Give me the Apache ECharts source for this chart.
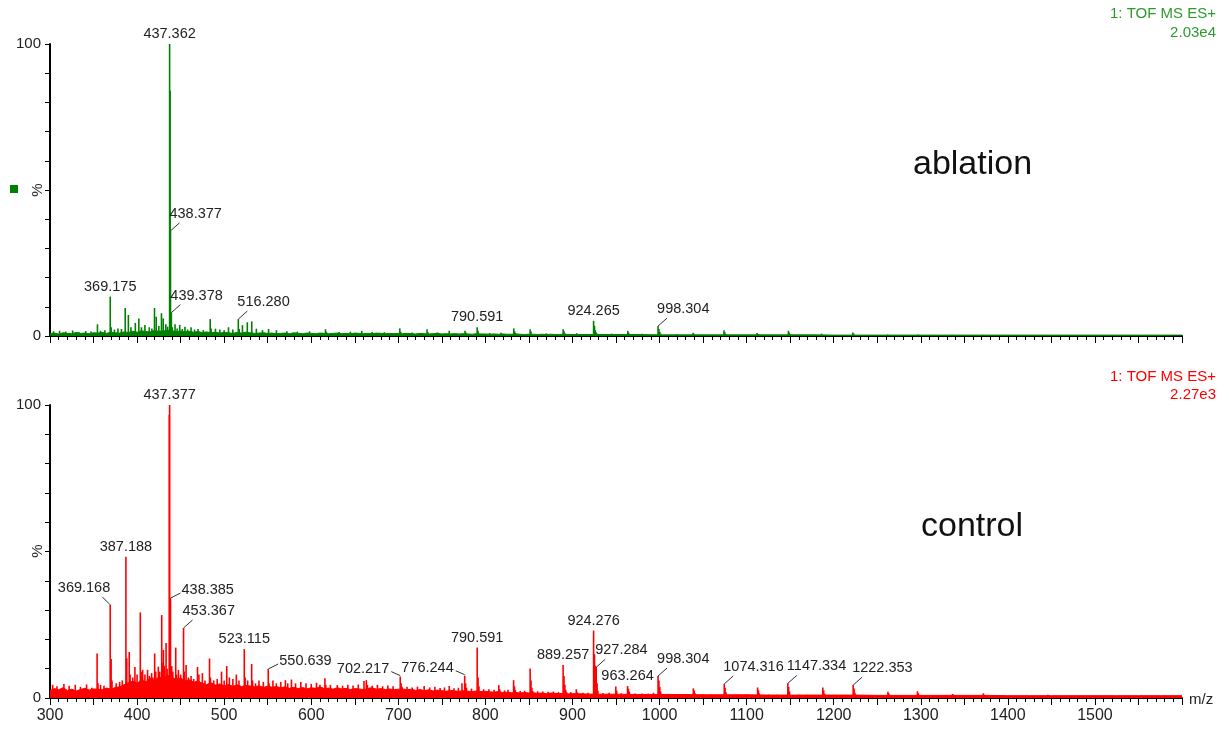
<!DOCTYPE html>
<html>
<head>
<meta charset="utf-8">
<title>TOF MS ES+ spectra: ablation vs control</title>
<script src="https://cdn.jsdelivr.net/npm/echarts@6/dist/echarts.min.js"></script>
<style>
  html, body { margin: 0; padding: 0; background: #fff; }
  #chart { width: 1229px; height: 729px; }
</style>
</head>
<body>
<div id="chart"></div>
<script>
// ---- m/z axis ----
const mzMin = 300;
const mzMax = 1600;
const mzTickLabels = [300, 400, 500, 600, 700, 800, 900, 1000, 1100, 1200, 1300, 1400, 1500];

// ---- ablation spectrum (relative intensity %, base peak = 2.03e4) ----
const ablationPeaks = [
  [304, 1.6], [311, 1.8], [318, 1.5], [326, 1.9], [333, 1.4], [341, 1.7], [347, 1.5],
  [354.5, 4], [358, 1.8], [363, 2], [369.175, 13.5], [370.2, 3], [374, 2.2], [378, 2.6],
  [382, 2.4], [386.4, 9.6], [390, 7.2], [393, 3], [398, 4.5], [402, 6], [405, 3],
  [409, 3.8], [414, 3], [417, 2.6], [420, 9.6], [422, 6.6], [425, 3.4], [428, 7.8],
  [430, 6], [433, 4], [435, 3.2],
  [437.362, 100], [437.9, 84], [438.377, 36], [439.378, 8], [440.4, 3],
  [443.6, 4], [446, 2.6], [449, 3.8], [452, 2.4], [455, 3.2], [458, 2.2], [462, 3],
  [466, 2.2], [470, 2.4], [476, 2], [484, 5.8], [485, 2.6], [490, 2.5], [495, 2.2],
  [500, 2], [505, 3], [510, 2.2], [516.28, 5.8], [517.3, 2.4], [521, 3.7], [526.6, 4.7],
  [531.7, 5], [537, 2.5], [544, 2], [551, 2.4], [560, 2], [572, 1.6], [584, 1.5],
  [598, 1.6], [616.4, 2.3], [617.4, 1.4], [632, 1.4], [645, 1.5], [658, 1.8], [670, 1.4],
  [684, 1.3], [701.7, 2.6], [702.7, 1.5], [716, 1.2], [733, 2.3], [734, 1.3], [745, 1.2],
  [758.5, 1.8], [776.6, 1.8], [777.6, 1.2], [790.591, 3], [791.6, 1.8], [805, 1],
  [818, 1.1], [832.6, 2.6], [833.6, 1.6], [834.6, 1], [851.4, 2.3], [852.4, 1.5],
  [870, 0.9], [889.3, 2.3], [890.3, 1.6], [891.3, 0.9], [905, 0.9],
  [924.265, 5.2], [925.3, 3.5], [926.3, 2], [927.3, 1.2], [928.3, 0.8], [945, 0.8], [963.5, 1.8],
  [964.5, 1.2], [965.5, 0.7], [980, 0.8], [998.304, 3.4], [999.3, 2.4], [1000.3, 1.4],
  [1001.3, 0.8], [1020, 0.7], [1038.5, 1.1], [1039.5, 0.8], [1074, 2], [1075, 1.3],
  [1076, 0.7], [1112, 1], [1113, 0.7], [1148, 1.8], [1149, 1.2], [1150, 0.6], [1186, 0.8],
  [1222, 1.2], [1223, 0.8], [1262, 0.5], [1297, 0.5], [1336, 0.4], [1372, 0.4],
  [1410, 0.3], [1446, 0.3], [1520, 0.3]
];
// baseline noise, one value every 5 m/z from 300 to 900
const ablationNoise = [
  0.8, 1.0, 0.7, 1.1, 0.9, 0.8, 1.2, 0.9, 1.0, 0.8, 1.1,
  1.0, 1.2, 0.9, 1.3, 1.1, 1.0,
  1.4, 1.2, 1.6, 1.3, 1.8, 1.5, 1.4, 1.9, 1.6, 1.7, 2.0, 1.8, 1.5, 1.7, 1.4, 1.6, 1.3, 1.5,
  1.2, 1.4, 1.1, 1.3, 1.0, 1.2, 1.1, 0.9, 1.2, 1.0, 1.3, 1.1, 0.9, 1.0, 1.1, 0.9, 1.0, 0.8,
  0.9, 1.0, 0.8, 1.1, 0.9, 0.8, 1.0, 0.9, 0.8, 1.0, 0.9, 0.8, 0.9, 1.0, 0.8, 0.9, 0.8, 1.0,
  0.9, 0.8, 0.9, 0.8, 1.0, 0.9, 0.8, 0.9, 0.8, 0.9,
  0.8, 0.9, 0.8, 0.7, 0.9, 0.8, 0.7, 0.8, 0.9, 0.7, 0.8, 0.7, 0.8, 0.7, 0.8, 0.7, 0.6, 0.8, 0.7, 0.7,
  0.6, 0.7, 0.6, 0.7, 0.6, 0.6, 0.7, 0.6, 0.5, 0.6, 0.6, 0.5, 0.6, 0.5, 0.6, 0.5, 0.5, 0.6, 0.5, 0.5
];
// baseline noise, one value every 25 m/z from 900 to 1600
const ablationNoiseTail = [
  0.5, 0.5, 0.5, 0.5, 0.4, 0.4, 0.4, 0.4, 0.4, 0.4, 0.4, 0.4, 0.3, 0.3, 0.3,
  0.3, 0.3, 0.3, 0.3, 0.3, 0.3, 0.3, 0.3, 0.3, 0.3, 0.3, 0.3, 0.3, 0.3
];
const ablationLabelled = [437.362, 438.377, 439.378, 369.175, 516.280, 790.591, 924.265, 998.304];

// ---- control spectrum (relative intensity %, base peak = 2.27e3) ----
const controlPeaks = [
  [303, 4.5], [308, 4], [316, 4.8], [322, 4.2], [329, 4.5], [335, 3.8], [342, 4.6], [348, 3.5],
  [354.1, 15.2], [355.1, 5], [358, 4.5], [362, 4.2],
  [369.168, 31.8], [370.2, 13.3], [371.2, 6], [376, 5], [380, 5.5], [383, 6],
  [387.188, 48.2], [388.2, 13.6], [391, 15.7], [392, 8], [395, 7], [397.5, 10.6], [400, 8],
  [403.7, 29.2], [404.7, 9], [406.4, 9.6], [409, 8], [412, 9.6], [414, 7.5], [416.7, 8.5],
  [418, 7], [420.2, 15.2], [421.5, 9], [424.4, 10.7], [426, 9], [428.3, 28.3], [429.3, 12],
  [430.2, 16.4], [431.5, 11], [433.3, 18.8], [434.5, 10],
  [437.0, 96.7], [437.377, 100], [438.385, 34.1], [439.8, 10.9], [441, 9], [444.4, 17.2],
  [445.5, 8], [447.5, 9.6], [450, 8],
  [453.367, 23.9], [454.4, 9], [456.3, 11.3], [459, 7], [462, 7.5], [465, 6.5], [469.4, 10.6],
  [471, 8], [475, 8.5], [478, 6], [483.2, 13.5], [484.2, 7], [488, 6], [492, 6.5], [497, 9],
  [500, 6], [503, 10.9], [506, 7], [510, 6.5], [514, 8], [517, 6],
  [523.115, 16.7], [524.1, 7], [527, 6], [531.6, 11.6], [532.6, 6], [536, 5], [540, 6], [545, 5.5],
  [550.639, 9.9], [551.6, 5], [556, 6], [560, 5], [565, 5.5], [570.3, 6.1], [573, 5], [577.3, 6.3],
  [582, 5], [588, 5.5], [594, 5], [600, 4.8], [606, 5.2], [610, 4.5], [615.7, 6.7], [616.7, 4.5],
  [622, 4.5], [629.9, 4.4], [636, 4.2], [642, 4.5], [648, 4.3], [654, 4.6], [660.6, 5.8],
  [663.3, 6.1], [664.5, 4.5], [670, 4.2], [676, 4.5], [682, 4.0], [688, 4.3], [694, 4.0],
  [702.217, 7.3], [703.2, 5], [704.3, 3.8], [710, 3.8], [716, 3.6], [722, 3.9], [729.7, 4.1],
  [736, 3.6], [742, 3.8], [748, 3.4], [753, 3.6], [758.5, 4.1], [764, 3.3], [769, 3.5],
  [773.1, 5], [776.244, 7.6], [777.3, 5], [778.3, 3.5], [784, 3.2],
  [790.591, 17.2], [791.6, 7], [792.6, 4], [798, 3], [804, 3], [810, 2.8], [815.4, 4.4],
  [816.4, 3], [822, 2.6], [826, 2.8], [832.4, 6.1], [833.4, 4], [834.4, 2.8], [840, 2.4],
  [845, 2.5], [851.4, 10.1], [852.4, 6], [853.4, 3.5], [854.4, 2.4], [860, 2.3], [866, 2.2],
  [872, 2.1], [878, 2.2], [884, 2],
  [889.257, 11.3], [890.3, 7.5], [891.3, 4.5], [892.3, 2.8], [893.3, 2], [898, 2], [904.4, 3], [905.4, 2],
  [912, 1.8], [918, 1.8],
  [924.276, 23], [925.3, 15], [926.3, 11], [927.284, 10.5], [928.3, 5], [929.3, 2.5], [935, 1.7],
  [942, 1.8], [949.8, 3.9], [950.8, 2.5], [956, 1.6],
  [963.264, 4.1], [964.3, 3.2], [965.3, 2.2], [972, 1.5], [980, 1.5], [987, 1.5], [993, 1.8],
  [998.304, 7.5], [999.3, 6], [1000.3, 3.8], [1001.3, 2.2], [1010, 1.4], [1020, 1.4], [1030, 1.3],
  [1038.8, 3.3], [1039.8, 2.6], [1040.8, 1.6], [1050, 1.3], [1060, 1.2],
  [1074.316, 4.8], [1075.3, 3.5], [1076.3, 2], [1090, 1.2], [1100, 1.2],
  [1112.6, 3.6], [1113.6, 2.6], [1114.6, 1.6], [1125, 1.2], [1135, 1.1],
  [1147.334, 5], [1148.3, 3.8], [1149.3, 2.2], [1160, 1.1], [1170, 1.1],
  [1187.5, 3.6], [1188.5, 2.6], [1189.5, 1.5], [1200, 1.1],
  [1222.353, 4.4], [1223.4, 3.2], [1224.4, 1.8], [1240, 1],
  [1262.3, 2.1], [1263.3, 1.5], [1280, 1],
  [1296.2, 2.3], [1297.2, 1.6],
  [1336.5, 1.4], [1337.5, 1.1],
  [1371.8, 1.6], [1372.8, 1.1],
  [1409.4, 0.8], [1446, 1.1], [1519, 0.8]
];
const controlNoise = [
  2.5, 3.2, 2.8, 3.5, 2.6, 3.0, 2.4, 2.9, 3.3, 2.7, 3.1,
  3.0, 2.8, 3.4, 3.0, 3.6, 3.8,
  4.5, 5.2, 5.8, 5.0, 6.2, 5.5, 6.8, 6.0, 7.2, 6.5, 7.8, 7.0, 6.4, 6.8, 5.9, 6.2, 5.4, 5.8,
  5.0, 4.6, 5.2, 4.4, 4.8, 4.2, 4.6, 4.0, 4.5, 3.9, 4.3, 4.1, 3.8, 4.2, 3.6, 4.0, 3.7, 3.9,
  3.5, 3.8, 3.3, 3.7, 3.2, 3.6, 3.1, 3.5, 3.3, 3.8, 3.2, 3.4, 3.0, 3.5, 3.1, 3.3,
  2.9, 3.2, 3.1, 2.8, 3.3, 3.5, 3.0, 3.2, 2.9, 3.1, 2.8, 3.0,
  3.1, 2.8, 3.0, 2.6, 2.9, 2.5, 2.8, 2.4, 2.7, 2.5, 2.3, 2.6, 2.4, 2.3, 2.5, 2.3, 2.2, 2.4, 2.2, 2.3,
  2.1, 2.0, 2.2, 1.9, 2.0, 1.8, 1.9, 1.7, 1.9, 1.7, 1.8, 1.6, 1.7, 1.5, 1.7, 1.6, 1.5, 1.6, 1.4, 1.5
];
const controlNoiseTail = [
  1.4, 1.3, 1.3, 1.2, 1.2, 1.2, 1.1, 1.1, 1.1, 1.0, 1.0, 1.0, 1.0, 1.0, 0.9,
  0.9, 0.9, 0.9, 0.9, 0.9, 0.8, 0.8, 0.8, 0.8, 0.8, 0.8, 0.8, 0.8, 0.8
];
const controlLabelled = [437.377, 387.188, 369.168, 438.385, 453.367, 523.115, 550.639, 702.217,
  776.244, 790.591, 889.257, 924.276, 927.284, 963.264, 998.304, 1074.316, 1147.334, 1222.353];

// ---- styling / placement of peak annotations ----
// top: centred above; up: leader up-right, text above it; side: leader right, text beside;
// upLeft: leader up-left, text above-left; sideLeft: leader left, text beside
const labelPlacement = {
  '438.377': 'up', '439.378': 'up', '516.280': 'up',
  '369.168': 'upLeft', '438.385': 'side', '453.367': 'up', '550.639': 'side',
  '702.217': 'sideLeft', '776.244': 'sideLeft', '927.284': 'up', '998.304': 'up',
  '1074.316': 'up', '1147.334': 'up', '1222.353': 'up'
};
const GREEN = '#008000';
const RED = '#ff0000';
const FONT = '"Liberation Sans", Arial, sans-serif';

function noiseSeries(values, tail) {
  const pts = values.map((v, i) => [mzMin + 5 * i, v]);
  tail.forEach((v, i) => { if (i > 0) pts.push([900 + 25 * i, v]); });
  return pts;
}

function peakLookup(peaks, mz) {
  const hit = peaks.find(p => Math.abs(p[0] - mz) < 1e-6);
  return hit ? hit[1] : 0;
}

function stickRender(color) {
  return function (params, api) {
    const base = api.coord([api.value(0), 0]);
    const top = api.coord([api.value(0), api.value(1)]);
    return {
      type: 'rect',
      shape: { x: base[0] - 0.8, y: top[1], width: 1.6, height: base[1] - top[1] },
      style: { fill: color }
    };
  };
}

function labelRender(params, api) {
  const mz = api.value(0);
  const text = mz.toFixed(3);
  const p = api.coord([mz, api.value(1)]);
  const mode = labelPlacement[text] || 'top';
  const textStyle = { text: text, font: '14.5px ' + FONT, fill: '#222', verticalAlign: 'middle' };
  const children = [];
  let tx = p[0], ty = p[1] - 10, align = 'center', line = null;
  if (mode === 'up') {
    line = [p[0], p[1], p[0] + 9, p[1] - 8]; tx = p[0] - 1; ty = p[1] - 17; align = 'left';
  } else if (mode === 'side') {
    line = [p[0], p[1], p[0] + 10, p[1] - 5]; tx = p[0] + 11; ty = p[1] - 8; align = 'left';
  } else if (mode === 'upLeft') {
    line = [p[0], p[1], p[0] - 8, p[1] - 8]; tx = p[0]; ty = p[1] - 17; align = 'right';
  } else if (mode === 'sideLeft') {
    line = [p[0], p[1] - 1, p[0] - 9, p[1] - 5]; tx = p[0] - 11; ty = p[1] - 8; align = 'right';
  }
  if (line) {
    children.push({ type: 'line', shape: { x1: line[0], y1: line[1], x2: line[2], y2: line[3] },
      style: { stroke: '#333', lineWidth: 1 } });
  }
  children.push({ type: 'text', x: tx, y: ty, style: Object.assign({ align: align }, textStyle) });
  return { type: 'group', children: children };
}

function xAxisFor(gridIndex, showLabels) {
  return {
    type: 'value', gridIndex: gridIndex, min: mzMin, max: mzMax, interval: 50,
    axisLine: { show: true, onZero: false, lineStyle: { color: '#000', width: 2 } },
    axisTick: { show: true, length: 7, lineStyle: { color: '#000', width: 1 } },
    minorTick: { show: true, splitNumber: 5, length: 4, lineStyle: { color: '#000', width: 1 } },
    splitLine: { show: false },
    axisLabel: {
      show: showLabels, margin: 10, fontSize: 16, fontFamily: FONT, color: '#222',
      formatter: v => (mzTickLabels.indexOf(v) >= 0 ? String(v) : '')
    }
  };
}

function yAxisFor(gridIndex) {
  return {
    type: 'value', gridIndex: gridIndex, min: 0, max: 100, interval: 10,
    axisLine: { show: true, lineStyle: { color: '#000', width: 2 } },
    axisTick: { show: true, length: 5, lineStyle: { color: '#000', width: 1 } },
    splitLine: { show: false },
    axisLabel: {
      margin: 9, fontSize: 15, fontFamily: FONT, color: '#222',
      formatter: v => (v === 0 || v === 100 ? String(v) : '')
    }
  };
}

const chart = echarts.init(document.getElementById('chart'), null, { renderer: 'canvas' });
chart.setOption({
  animation: false,
  backgroundColor: '#fff',
  grid: [
    { left: 50, right: 47, top: 44, bottom: 393 },
    { left: 50, right: 47, top: 405, bottom: 31 }
  ],
  xAxis: [xAxisFor(0, false), xAxisFor(1, true)],
  yAxis: [yAxisFor(0), yAxisFor(1)],
  series: [
    {
      name: 'ablation noise', type: 'line', xAxisIndex: 0, yAxisIndex: 0,
      data: noiseSeries(ablationNoise, ablationNoiseTail), symbol: 'none',
      lineStyle: { color: GREEN, width: 1 }, areaStyle: { color: GREEN, opacity: 1 }
    },
    {
      name: 'ablation', type: 'custom', xAxisIndex: 0, yAxisIndex: 0,
      data: ablationPeaks, renderItem: stickRender(GREEN), clip: true
    },
    {
      name: 'ablation labels', type: 'custom', xAxisIndex: 0, yAxisIndex: 0, z: 5,
      data: ablationLabelled.map(mz => [mz, peakLookup(ablationPeaks, mz)]),
      renderItem: labelRender, clip: false, silent: true
    },
    {
      name: 'control noise', type: 'line', xAxisIndex: 1, yAxisIndex: 1,
      data: noiseSeries(controlNoise, controlNoiseTail), symbol: 'none',
      lineStyle: { color: RED, width: 1 }, areaStyle: { color: RED, opacity: 1 }
    },
    {
      name: 'control', type: 'custom', xAxisIndex: 1, yAxisIndex: 1,
      data: controlPeaks, renderItem: stickRender(RED), clip: true
    },
    {
      name: 'control labels', type: 'custom', xAxisIndex: 1, yAxisIndex: 1, z: 5,
      data: controlLabelled.map(mz => [mz, peakLookup(controlPeaks, mz)]),
      renderItem: labelRender, clip: false, silent: true
    }
  ],
  graphic: [
    { type: 'text', right: 13, top: 6, style: { text: '1: TOF MS ES+', font: '15px ' + FONT, fill: '#2e9a2e', align: 'right' } },
    { type: 'text', right: 13, top: 25, style: { text: '2.03e4', font: '15px ' + FONT, fill: '#2e9a2e', align: 'right' } },
    { type: 'text', right: 13, top: 369, style: { text: '1: TOF MS ES+', font: '15px ' + FONT, fill: RED, align: 'right' } },
    { type: 'text', right: 13, top: 387, style: { text: '2.27e3', font: '15px ' + FONT, fill: RED, align: 'right' } },
    { type: 'text', left: 913, top: 148, style: { text: 'ablation', font: '34px ' + FONT, fill: '#111' } },
    { type: 'text', left: 921, top: 510, style: { text: 'control', font: '34px ' + FONT, fill: '#111' } },
    { type: 'rect', left: 10, top: 185, shape: { width: 8, height: 8 }, style: { fill: GREEN } },
    { type: 'text', x: 38, y: 190, rotation: Math.PI / 2, style: { text: '%', font: '15px ' + FONT, fill: '#222', align: 'center', verticalAlign: 'middle' } },
    { type: 'text', x: 38, y: 551, rotation: Math.PI / 2, style: { text: '%', font: '15px ' + FONT, fill: '#222', align: 'center', verticalAlign: 'middle' } },
    { type: 'text', left: 1189, top: 692, style: { text: 'm/z', font: '15px ' + FONT, fill: '#222' } }
  ]
});
</script>
</body>
</html>
